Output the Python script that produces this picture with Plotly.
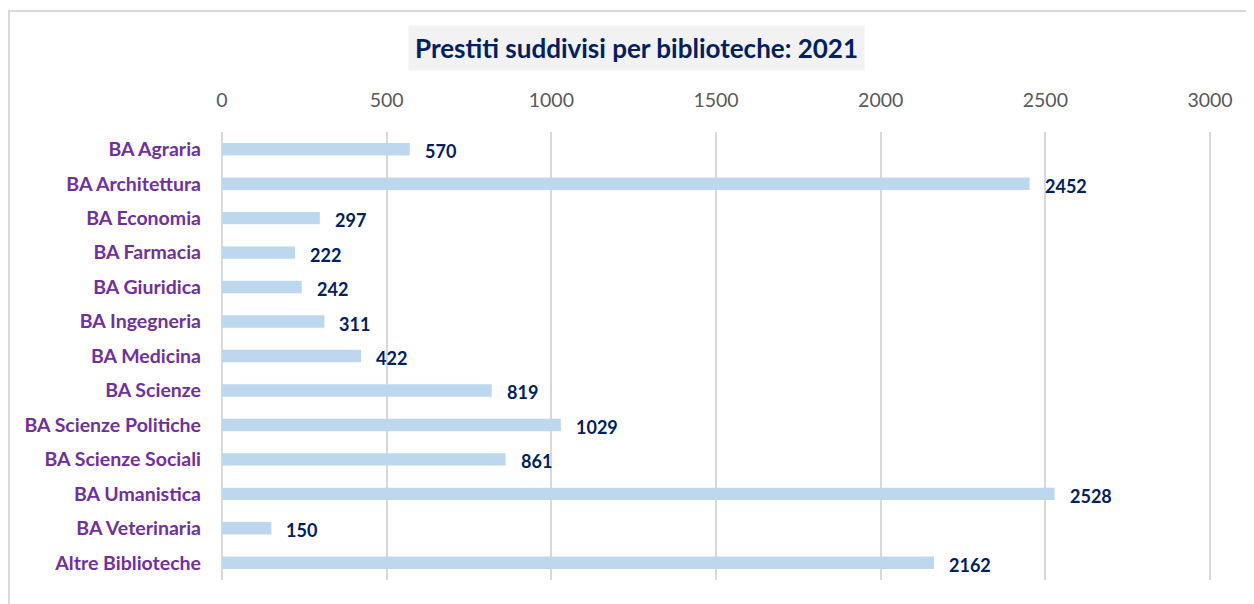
import plotly.graph_objects as go

categories = ["BA Agraria", "BA Architettura", "BA Economia", "BA Farmacia",
              "BA Giuridica", "BA Ingegneria", "BA Medicina", "BA Scienze",
              "BA Scienze Politiche", "BA Scienze Sociali", "BA Umanistica",
              "BA Veterinaria", "Altre Biblioteche"]
values = [570, 2452, 297, 222, 242, 311, 422, 819, 1029, 861, 2528, 150, 2162]
tick_vals = [0, 500, 1000, 1500, 2000, 2500, 3000]
title_text = "Prestiti suddivisi per biblioteche: 2021"

FONT = "Lato"

fig = go.Figure()
fig.add_trace(go.Bar(
    x=values, y=categories, orientation="h",
    marker=dict(color="#BDD7EE", line=dict(width=0)),
    width=0.36, hoverinfo="x+y",
))

annotations = []
for c, v in zip(categories, values):
    annotations.append(dict(
        x=v, y=c, xref="x", yref="y", text=f"<b>{v}</b>", showarrow=False,
        xanchor="left", yanchor="middle", xshift=13, yshift=-2,
        font=dict(family=FONT, size=18, color="#002060"),
    ))

annotations.append(dict(
    x=0.418, y=1.1875, xref="paper", yref="paper", text=f"<b>{title_text}</b>",
    showarrow=False, xanchor="center", yanchor="middle",
    font=dict(family=FONT, size=26, color="#002060"),
    bgcolor="#F2F2F2", borderpad=6,
))

fig.update_layout(
    width=1246, height=596,
    margin=dict(l=214, r=40, t=124, b=24),
    paper_bgcolor="white", plot_bgcolor="white",
    showlegend=False,
    annotations=annotations,
    shapes=[dict(type="rect", xref="paper", yref="paper",
                 x0=-0.2148, x1=1.2, y0=-0.3, y1=1.2701,
                 line=dict(color="#D9D9D9", width=2), layer="below")],
    xaxis=dict(side="top", range=[0, 3012], tickvals=tick_vals,
               ticktext=[str(t) for t in tick_vals],
               showgrid=True, gridcolor="#D9D9D9", gridwidth=2,
               zeroline=True, zerolinecolor="#D9D9D9", zerolinewidth=2,
               showline=False, ticks="",
               tickfont=dict(family=FONT, size=19.5, color="#595959"),
               ticklabelstandoff=20, fixedrange=True),
    yaxis=dict(autorange="reversed", showgrid=False, zeroline=False, showline=False,
               ticks="", tickfont=dict(family=FONT, size=19.5, color="#7030A0", weight="bold"),
               ticklabelstandoff=20, fixedrange=True),
)

fig.write_html("out.html")
